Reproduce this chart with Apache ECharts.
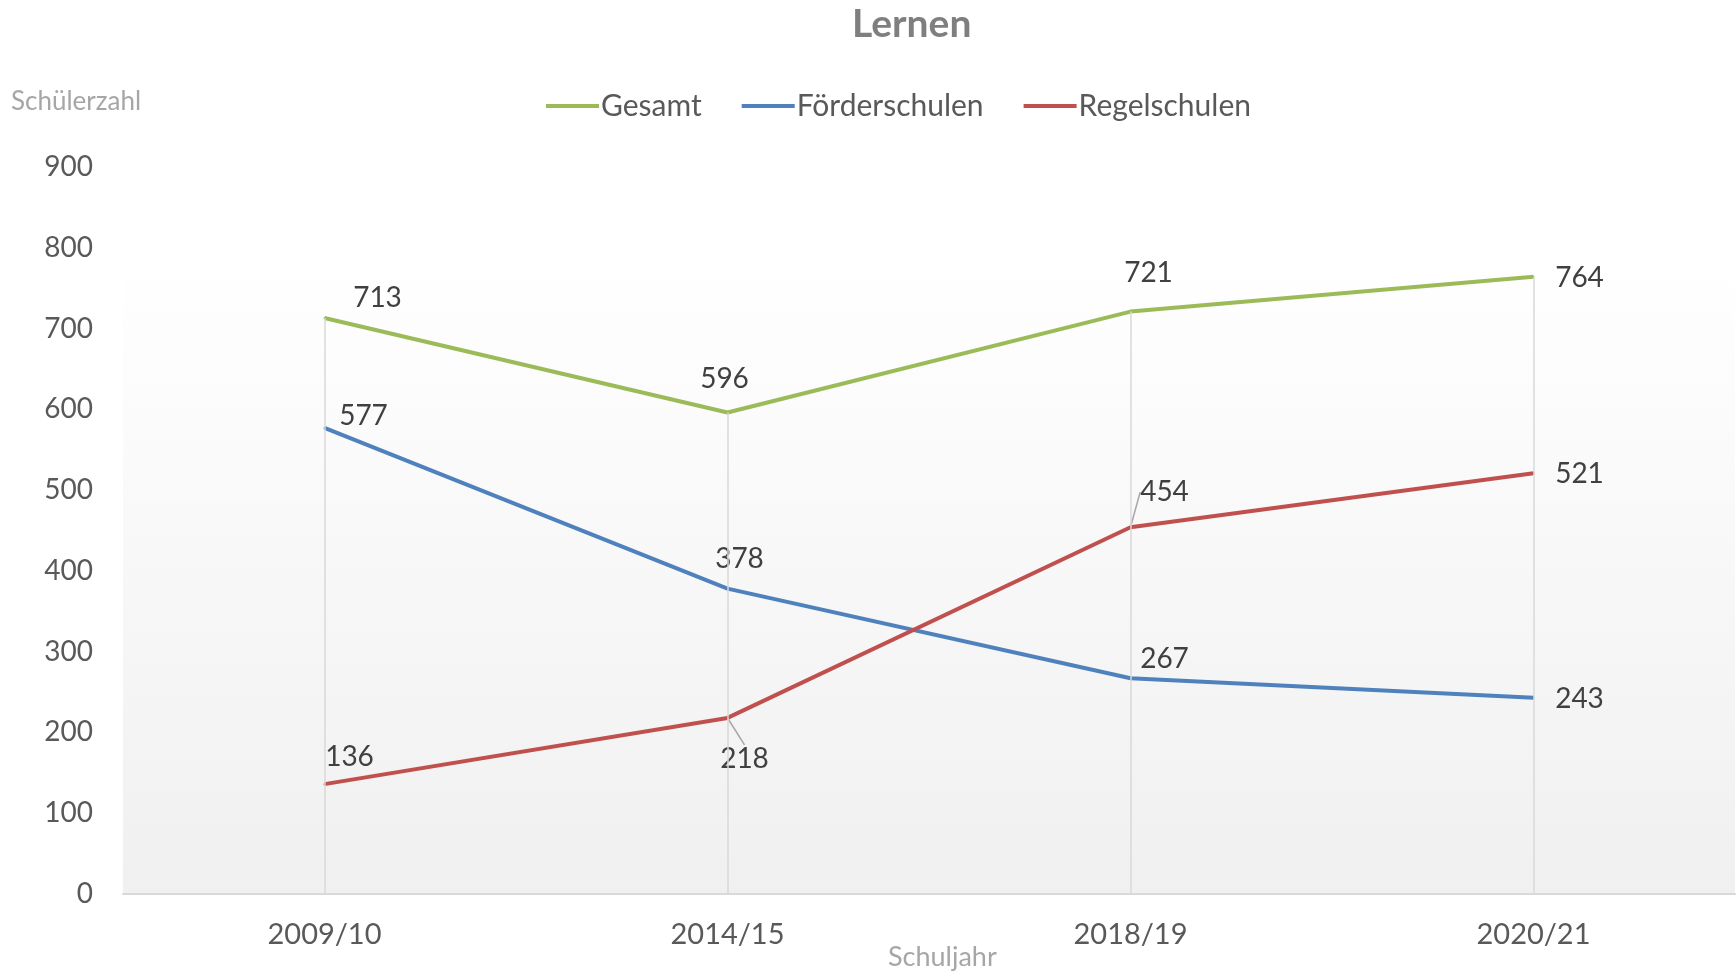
<!DOCTYPE html>
<html>
<head>
<meta charset="utf-8">
<script src="https://cdn.jsdelivr.net/npm/echarts@6/dist/echarts.min.js"></script>
<style>
  html, body { margin: 0; padding: 0; background: #fff; }
  #chart { width: 1736px; height: 972px; }
</style>
</head>
<body>
<div id="chart"></div>
<script>
  const years = ['2009/10', '2014/15', '2018/19', '2020/21'];
  const gesamt = [713, 596, 721, 764];
  const foerderschulen = [577, 378, 267, 243];
  const regelschulen = [136, 218, 454, 521];
  const yTicks = { min: 0, max: 900, step: 100 };

  // label shifts relative to the point (px), and which ones get a leader line
  const shiftGesamt = [[53, -20], [-3, -34], [18, -39], [46, 1]];
  const shiftFoerder = [[39, -12], [12, -30], [34, -19], [46, 1]];
  const shiftRegel = [[25, -27], [17, 41], [34, -35], [46, 1]];
  const leaderRegel = [false, true, true, false];

  const font = 'Lato, "Open Sans", sans-serif';
  const chart = echarts.init(document.getElementById('chart'));

  function points(values, leaders) {
    return values.map((v, i) => ({
      value: v,
      labelLine: { show: !!(leaders && leaders[i]) }
    }));
  }

  const shifts = [shiftGesamt, shiftFoerder, shiftRegel];

  function makeLine(name, values, color, leaders) {
    return {
      name: name,
      type: 'line',
      data: points(values, leaders),
      symbol: 'circle',
      symbolSize: 2,
      showSymbol: true,
      z: 3,
      lineStyle: { color: color, width: 4 },
      itemStyle: { color: color },
      label: {
        show: true,
        position: 'inside',
        fontFamily: font,
        fontSize: 28,
        color: '#404040'
      },
      labelLine: {
        show: false,
        lineStyle: { color: '#a6a6a6', width: 1.5 }
      }
    };
  }

  chart.setOption({
    backgroundColor: '#ffffff',
    textStyle: { fontFamily: font },
    animation: false,
    title: {
      text: 'Lernen',
      left: 847,
      top: 0,
      textStyle: { fontFamily: font, fontSize: 39, fontWeight: 'bold', color: '#7f7f7f' }
    },
    legend: {
      data: ['Gesamt', 'Förderschulen', 'Regelschulen'],
      left: 541,
      top: 86,
      icon: 'rect',
      itemWidth: 53,
      itemHeight: 4,
      itemGap: 40,
      textStyle: { fontFamily: font, fontSize: 30, color: '#595959', padding: [0, 0, 0, -3] }
    },
    grid: {
      left: 123,
      right: 1,
      top: 167,
      bottom: 78,
      show: true,
      borderWidth: 0,
      backgroundColor: new echarts.graphic.LinearGradient(0, 0, 0, 1, [
        { offset: 0, color: '#ffffff' },
        { offset: 0.12, color: '#ffffff' },
        { offset: 1, color: '#f0f0f0' }
      ])
    },
    graphic: [
      {
        type: 'text', left: 11, top: 89,
        style: { text: 'Schülerzahl', font: '26px ' + font, fill: '#a6a6a6' }
      },
      {
        type: 'text', left: 888, top: 944,
        style: { text: 'Schuljahr', font: '27px ' + font, fill: '#a6a6a6' }
      }
    ],
    xAxis: {
      type: 'category',
      data: years,
      boundaryGap: true,
      axisLine: { lineStyle: { color: '#d9d9d9', width: 2 } },
      axisTick: { show: false },
      axisLabel: { fontFamily: font, fontSize: 29, color: '#595959', margin: 26 },
      splitLine: { show: false }
    },
    yAxis: {
      type: 'value',
      min: yTicks.min,
      max: yTicks.max,
      interval: yTicks.step,
      axisLine: { show: false },
      axisTick: { show: false },
      splitLine: { show: false },
      axisLabel: { fontFamily: font, fontSize: 28, color: '#595959', margin: 30 }
    },
    labelLayout: function (params) {
      const s = shifts[params.seriesIndex];
      if (!s) return {};
      const d = s[params.dataIndex];
      return { dx: d[0], dy: d[1] };
    },
    series: [
      makeLine('Gesamt', gesamt, '#9bbb59'),
      makeLine('Förderschulen', foerderschulen, '#4f81bd'),
      makeLine('Regelschulen', regelschulen, '#c0504d', leaderRegel),
      {
        // drop lines from the highest point of each year down to the axis
        name: 'drop',
        type: 'line',
        data: [],
        z: 1,
        silent: true,
        markLine: {
          silent: true,
          symbol: 'none',
          label: { show: false },
          lineStyle: { color: '#d9d9d9', width: 1.5, type: 'solid' },
          data: years.map((y, i) => {
            const top = Math.max(gesamt[i], foerderschulen[i], regelschulen[i]);
            return [{ coord: [y, top] }, { coord: [y, 0] }];
          })
        }
      }
    ]
  });
</script>
</body>
</html>
